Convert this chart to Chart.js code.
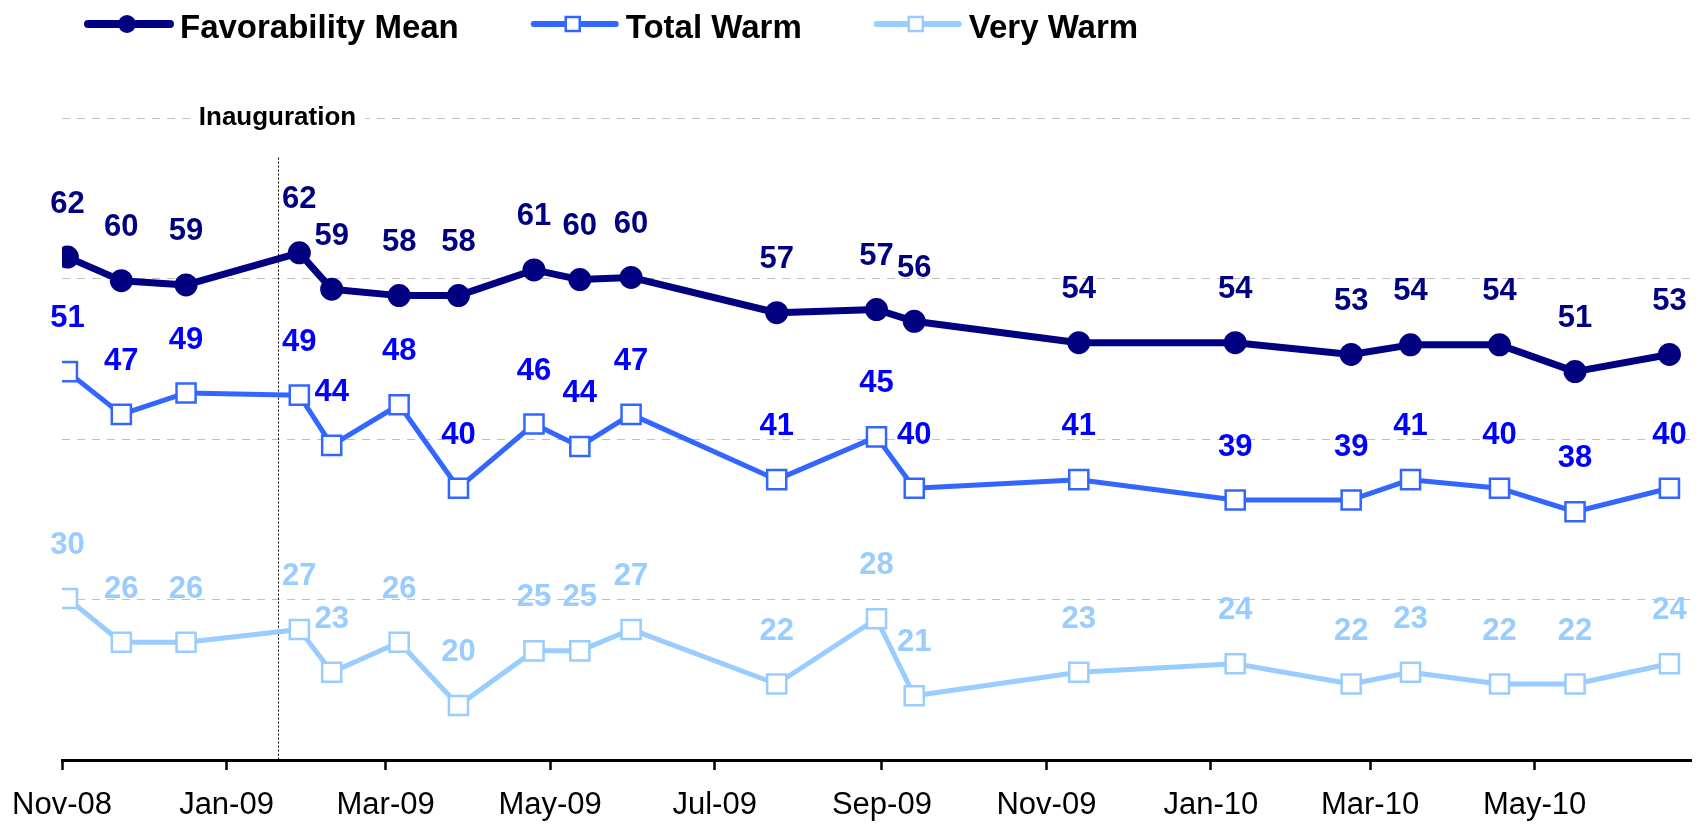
<!DOCTYPE html>
<html><head><meta charset="utf-8">
<script src="https://cdn.jsdelivr.net/npm/chart.js@4.4.1/dist/chart.umd.min.js"></script>
<style>html,body{margin:0;padding:0;background:#fff;overflow:hidden}#wrap{position:relative;width:1707px;height:825px}</style>
</head><body><div id="wrap"><canvas id="c" width="1707" height="825"></canvas></div>
<script>
// ---- data ----
const surveyDates = ['2008-11-03','2008-11-23','2008-12-17','2009-01-28','2009-02-09','2009-03-06','2009-03-28','2009-04-25','2009-05-12','2009-05-31','2009-07-24','2009-08-30','2009-09-13','2009-11-13','2010-01-10','2010-02-22','2010-03-16','2010-04-18','2010-05-16','2010-06-20'];
const favorabilityMean = [62.0,59.8,59.4,62.4,59.0,58.4,58.4,60.8,59.9,60.1,56.8,57.1,56.0,54.0,54.0,52.9,53.8,53.8,51.3,52.9];
const totalWarm = [51.3,47.3,49.3,49.1,44.4,48.2,40.4,46.4,44.3,47.3,41.2,45.2,40.4,41.2,39.3,39.3,41.2,40.4,38.2,40.4];
const veryWarm = [30.1,26.0,26.0,27.2,23.2,26.0,20.1,25.2,25.2,27.2,22.1,28.2,21.0,23.2,24.0,22.1,23.2,22.1,22.1,24.0];
const seriesNames = ['Favorability Mean','Total Warm','Very Warm'];
const tickDates = ['2008-11-01','2009-01-01','2009-03-01','2009-05-01','2009-07-01','2009-09-01','2009-11-01','2010-01-01','2010-03-01','2010-05-01'];
const tickLabels = ['Nov-08','Jan-09','Mar-09','May-09','Jul-09','Sep-09','Nov-09','Jan-10','Mar-10','May-10'];
const axisStartDate = '2008-11-01';
const axisEndDate = '2010-06-28';
const inauguration = {date:'2009-01-20', text:'Inauguration'};

// ---- helpers ----
function dayNum(s){
  const [y,m,d] = s.split('-').map(Number);
  const [y0,m0,d0] = axisStartDate.split('-').map(Number);
  return (Date.UTC(y,m-1,d) - Date.UTC(y0,m0-1,d0)) / 86400000;
}
const FONT = '"Liberation Sans", Arial, Helvetica, sans-serif';
const colors = {fav:'#000080', tw:'#3366FF', twLabel:'#0000FF', vw:'#99CCFF'};
const labelColors = [colors.fav, colors.twLabel, colors.vw];
const lineColors = [colors.fav, colors.tw, colors.vw];
const toPoints = arr => surveyDates.map((d,i)=>({x:dayNum(d), y:arr[i]}));
const tickDays = tickDates.map(dayNum);

const valueLabels = {
  id:'valueLabels',
  afterDatasetsDraw(chart){
    const ctx = chart.ctx;
    ctx.save();
    ctx.font = 'bold 31px ' + FONT;
    ctx.textAlign = 'center';
    ctx.textBaseline = 'middle';
    chart.data.datasets.forEach((ds,i)=>{
      const meta = chart.getDatasetMeta(i);
      ctx.fillStyle = labelColors[i];
      meta.data.forEach((pt,j)=>{
        ctx.fillText(String(Math.round(ds.data[j].y)), pt.x, pt.y - 53);
      });
    });
    ctx.restore();
  }
};

const inaugurationMark = {
  id:'inaugurationMark',
  beforeDatasetsDraw(chart){
    const ctx = chart.ctx, xs = chart.scales.x, ys = chart.scales.y;
    const x = Math.round(xs.getPixelForValue(dayNum(inauguration.date))) + 0.5;
    ctx.save();
    ctx.strokeStyle = '#000';
    ctx.lineWidth = 1;
    ctx.setLineDash([2,2]);
    ctx.beginPath();
    ctx.moveTo(x, ys.getPixelForValue(71.3));
    ctx.lineTo(x, chart.chartArea.bottom);
    ctx.stroke();
    ctx.setLineDash([]);
    ctx.font = 'bold 26px ' + FONT;
    const w = ctx.measureText(inauguration.text).width;
    const yTop = ys.getPixelForValue(75);
    ctx.fillStyle = '#fff';
    ctx.fillRect(x - w/2 - 8, yTop - 14, w + 16, 28);
    ctx.fillStyle = '#000';
    ctx.textAlign = 'center';
    ctx.textBaseline = 'middle';
    ctx.fillText(inauguration.text, x - 1, yTop);
    ctx.restore();
  }
};

const customLegend = {
  id:'customLegend',
  afterDraw(chart){
    const ctx = chart.ctx;
    ctx.save();
    ctx.font = 'bold 33px ' + FONT;
    ctx.textBaseline = 'alphabetic';
    ctx.textAlign = 'left';
    let x = 85;
    const yLine = 24, yText = 38, lineLen = 88;
    const widths = [8,6,6];
    seriesNames.forEach((name,i)=>{
      ctx.strokeStyle = lineColors[i];
      ctx.lineWidth = widths[i];
      ctx.lineCap = 'round';
      ctx.beginPath(); ctx.moveTo(x+3, yLine); ctx.lineTo(x+lineLen-3, yLine); ctx.stroke();
      const cx = x + lineLen/2 - 2;
      if(i===0){
        ctx.fillStyle = lineColors[i];
        ctx.beginPath(); ctx.arc(cx, yLine, 9, 0, Math.PI*2); ctx.fill();
      } else {
        ctx.fillStyle = '#fff';
        ctx.lineWidth = 2.5;
        ctx.fillRect(cx-7, yLine-7, 14, 14);
        ctx.strokeRect(cx-7, yLine-7, 14, 14);
      }
      ctx.fillStyle = '#000';
      const tx = x + lineLen + 7;
      ctx.fillText(name, tx, yText);
      x = tx + ctx.measureText(name).width + 72;
    });
    ctx.restore();
  }
};

Chart.defaults.font.family = FONT;

new Chart(document.getElementById('c'), {
  type:'line',
  data:{
    datasets:[
      {label:seriesNames[0], data:toPoints(favorabilityMean), borderColor:colors.fav, backgroundColor:colors.fav,
       borderWidth:7, borderJoinStyle:'round', pointStyle:'circle', pointRadius:10.5, pointBorderWidth:2,
       pointBackgroundColor:colors.fav, pointBorderColor:colors.fav, tension:0},
      {label:seriesNames[1], data:toPoints(totalWarm), borderColor:colors.tw, backgroundColor:'#fff',
       borderWidth:5, borderJoinStyle:'round', pointStyle:'rect', pointRadius:13.5, pointBorderWidth:2.5,
       pointBackgroundColor:'#fff', pointBorderColor:colors.tw, tension:0},
      {label:seriesNames[2], data:toPoints(veryWarm), borderColor:colors.vw, backgroundColor:'#fff',
       borderWidth:5, borderJoinStyle:'round', pointStyle:'rect', pointRadius:13.5, pointBorderWidth:2.5,
       pointBackgroundColor:'#fff', pointBorderColor:colors.vw, tension:0}
    ]
  },
  options:{
    responsive:false, animation:false, devicePixelRatio:1,
    layout:{padding:{left:62, right:7, top:118, bottom:0}},
    plugins:{legend:{display:false}, tooltip:{enabled:false}},
    scales:{
      x:{
        type:'linear', min:0, max:dayNum(axisEndDate), offset:false,
        afterBuildTicks:(s)=>{ s.ticks = tickDays.map(v=>({value:v})); },
        afterFit:(s)=>{ s.height = 65; s.paddingLeft = 0; s.paddingRight = 0; },
        ticks:{autoSkip:false, maxRotation:0, minRotation:0, padding:17, color:'#000',
               font:{size:31, family:FONT}, callback:(v,i)=>tickLabels[i]},
        grid:{display:true, drawOnChartArea:false, drawTicks:true, tickLength:10, tickWidth:2.5, tickColor:'#000', color:'#000'},
        border:{display:true, color:'#000', width:3}
      },
      y:{
        min:15, max:75,
        afterFit:(s)=>{ s.width = 0; },
        ticks:{stepSize:15, display:false},
        grid:{drawTicks:false, lineWidth:1, color:(c)=> (c.tick && c.tick.value===15) ? 'rgba(0,0,0,0)' : '#C0C0C0'},
        border:{display:false, dash:[8,7]}
      }
    }
  },
  plugins:[inaugurationMark, valueLabels, customLegend]
});
</script></body></html>
